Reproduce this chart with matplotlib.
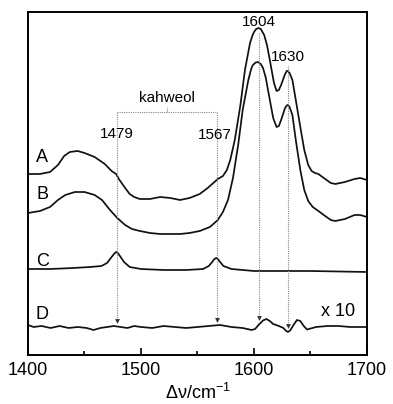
import matplotlib
matplotlib.use('Agg')
import matplotlib.pyplot as plt
from matplotlib.ticker import MultipleLocator

plt.rcParams['font.family'] = ['Liberation Sans', 'DejaVu Sans']
plt.rcParams['mathtext.fontset'] = 'custom'
plt.rcParams['mathtext.rm'] = 'Liberation Sans'

# spectrum A
xa = [1400, 1410.6, 1419.5, 1426.5, 1432, 1437, 1444, 1450, 1459, 1468, 1474, 1478,
      1481, 1486, 1490, 1494, 1499, 1508, 1517, 1526, 1534.5, 1543, 1552, 1559, 1564, 1568,
      1572.5, 1576, 1579, 1583, 1588, 1592, 1596.5, 1598.5, 1600, 1602, 1604, 1606, 1609,
      1611.5, 1614, 1617.7, 1620, 1622, 1624, 1627.5, 1629, 1630, 1631.5, 1634, 1637,
      1641, 1644.5, 1648, 1651, 1654, 1657, 1663, 1668, 1672, 1680.5, 1689, 1694, 1700]
ya = [181, 181, 183, 190, 199, 203, 204, 202, 198, 191, 184, 181,
      175, 167, 161, 158, 156, 156, 158, 157, 155, 157, 161, 167, 172, 176,
      179, 185, 195, 215, 250, 285, 312, 319, 323, 326, 327, 326, 320,
      310, 295, 272, 264, 265, 270, 281, 284, 284, 282, 275, 255,
      228, 205, 190, 184, 182, 181, 176, 172, 171, 173, 176, 177, 175]

# spectrum B
xb = [1400, 1410.6, 1419.5, 1426.5, 1433, 1441.6, 1450, 1459, 1465.5, 1472.6, 1479,
      1486, 1492, 1499, 1508, 1517, 1526, 1534.5, 1543, 1552, 1561, 1568, 1572.5,
      1577, 1581.4, 1586, 1590, 1595, 1597.5, 1599, 1601.5, 1603.5, 1606, 1608,
      1610.5, 1612.4, 1617, 1620, 1622, 1624, 1627.5, 1629, 1630, 1631.5, 1634, 1637,
      1641, 1644.5, 1648, 1652, 1657, 1663, 1668, 1672, 1680.5, 1689, 1694, 1700]
yb = [142, 144, 148, 155, 160, 163, 163, 160, 155, 145, 137,
      130, 126, 124, 122, 121, 121, 121, 122, 124, 128, 135, 143,
      155, 177, 210, 245, 275, 286, 290, 292.5, 293, 291, 287,
      277, 265, 237, 228, 229, 235, 247, 249.5, 250, 248, 240, 215,
      185, 165, 154, 148, 144, 139, 135, 134, 136, 140, 140, 138]

# spectrum C
xc = [1400, 1420, 1440, 1455, 1465, 1470, 1474, 1476.5, 1478, 1479.5, 1482, 1485, 1490,
      1500, 1520, 1540, 1555, 1560, 1563, 1565, 1566.5, 1568, 1570, 1573, 1580, 1600,
      1650, 1700]
yc = [86, 86, 87, 88, 89, 92, 98, 101.5, 103, 102, 98, 93, 88,
      86, 85, 85, 86, 89, 93, 96, 97, 96, 93, 89, 86, 84,
      84, 83]

# difference spectrum D (x 10)
xd = [1400, 1405, 1412, 1420, 1428, 1436, 1444, 1452, 1458, 1464, 1470, 1476, 1482,
      1488, 1494, 1500, 1510, 1520, 1530, 1540, 1550, 1560, 1570, 1580, 1590, 1598,
      1601, 1604, 1608, 1611, 1614, 1617, 1622, 1626, 1628, 1630, 1632, 1635, 1638,
      1641, 1644, 1647, 1655, 1665, 1675, 1685, 1700]
yd = [30, 28, 29, 27, 29, 27, 28, 27, 25, 27, 28, 29, 28,
      27, 29, 28, 27, 29, 28, 27, 28, 29, 30, 28, 27, 25,
      26, 30, 34.5, 36, 34, 31, 29, 27, 24.5, 23, 24.5, 30, 35,
      34, 29, 25.5, 28, 29, 29, 28, 28]

# marked bands: (position, top of dotted line, arrow tip)
bands = [1479, 1567, 1604, 1630]
band_top = [243, 243, 322, 289]
band_tip = [32, 33, 35, 27]

fig = plt.figure(figsize=(3.93, 4.04), dpi=100)
ax = fig.add_axes([0.0712, 0.1213, 0.8626, 0.8490])

for x, y in [(xa, ya), (xb, yb), (xc, yc), (xd, yd)]:
    ax.plot(x, y, color='#111111', lw=1.25, solid_joinstyle='round')

for b, top, tip in zip(bands, band_top, band_tip):
    ax.plot([b, b], [top, tip + 4], color='#888888', lw=0.8, ls=(0, (1, 1)))
    ax.plot(b, tip + 2, marker='v', color='#333333', ms=3.5, mec='none')

# kahweol bracket
ax.plot([1479, 1567], [243, 243], color='#888888', lw=0.8, ls=(0, (1, 1)))
ax.plot([1523, 1523], [243, 248], color='#888888', lw=0.8, ls=(0, (1, 1)))
ax.text(1523, 250, 'kahweol', ha='center', va='bottom', fontsize=11)

ax.text(1479, 221, '1479', ha='center', va='center', fontsize=11)
ax.text(1565, 220, '1567', ha='center', va='center', fontsize=11)
ax.text(1604, 333, '1604', ha='center', va='center', fontsize=11)
ax.text(1630, 298, '1630', ha='center', va='center', fontsize=11)

for lab, y in zip(['A', 'B', 'C', 'D'], [197, 160, 93, 40]):
    ax.text(1412.5, y, lab, ha='center', va='center', fontsize=13)
ax.text(1674, 43, 'x 10', ha='center', va='center', fontsize=13)

ax.set_xlim(1400, 1700)
ax.set_ylim(0, 343)
ax.set_yticks([])
ax.xaxis.set_major_locator(MultipleLocator(100))
ax.xaxis.set_minor_locator(MultipleLocator(50))
ax.tick_params(axis='x', which='major', direction='in', length=5, width=1.2,
               labelsize=13, pad=5)
ax.tick_params(axis='x', which='minor', direction='in', length=3, width=1.2)
for s in ax.spines.values():
    s.set_linewidth(1.4)
ax.set_xlabel('Δν/cm$^{\\mathregular{-1}}$', fontsize=13, labelpad=3)

fig.savefig('out.png', dpi=100)
